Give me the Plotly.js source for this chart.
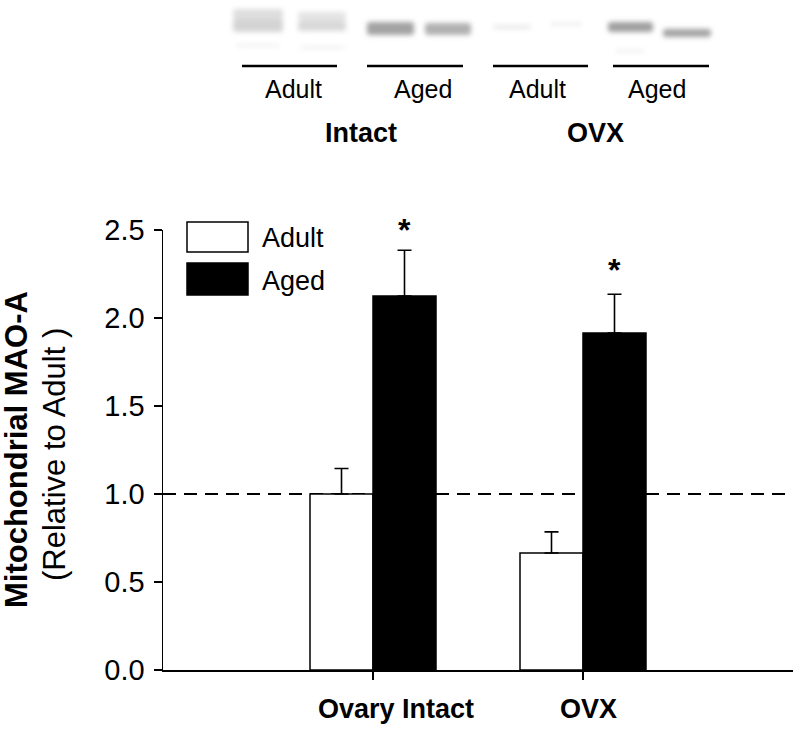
<!DOCTYPE html>
<html>
<head>
<meta charset="utf-8">
<script src="https://cdn.plot.ly/plotly-3.0.1.min.js"></script>
<style>html,body{margin:0;padding:0;background:#fff;}#chart{width:794px;height:731px;}</style>
</head>
<body>
<div id="chart"></div>
<script>
// ---- data ----
const groups = ['Ovary Intact', 'OVX'];
const seriesNames = ['Adult', 'Aged'];
const adultValues = [1.0, 0.665];
const adultErrors = [0.145, 0.12];
const agedValues = [2.125, 1.915];
const agedErrors = [0.26, 0.22];
const significance = ['*', '*'];
const yTickValues = [0, 0.5, 1.0, 1.5, 2.0, 2.5];
const referenceLevel = 1.0;
const blotLaneLabels = ['Adult', 'Aged', 'Adult', 'Aged'];
const blotGroupLabels = ['Intact', 'OVX'];

// ---- geometry helpers (pixel -> paper) ----
const W = 794, H = 731;
const M = {l: 163, r: 1, t: 230, b: 61};
const PW = W - M.l - M.r, PH = H - M.t - M.b;
const px = x => (x - M.l) / PW;
const py = y => (H - M.b - y) / PH;
const FONT = 'Liberation Sans, Arial, Helvetica, sans-serif';

const xIdx = groups.map((g, i) => i);

const traces = [
  {
    type: 'bar', name: seriesNames[0], x: xIdx, y: adultValues,
    marker: {color: '#ffffff', line: {color: '#000000', width: 1.5}},
    error_y: {type: 'data', array: adultErrors, arrayminus: adultErrors.map(() => 0), symmetric: false,
              color: '#000000', thickness: 1.6, width: 7},
    hoverinfo: 'skip'
  },
  {
    type: 'bar', name: seriesNames[1], x: xIdx, y: agedValues,
    marker: {color: '#000000', line: {color: '#000000', width: 1.5}},
    error_y: {type: 'data', array: agedErrors, arrayminus: agedErrors.map(() => 0), symmetric: false,
              color: '#000000', thickness: 1.6, width: 7},
    hoverinfo: 'skip'
  }
];

const shapes = [
  // reference dashed line
  {type: 'line', xref: 'paper', yref: 'y', x0: 0, x1: 1, y0: referenceLevel, y1: referenceLevel,
   line: {color: '#000', width: 2, dash: '13px,8px'}, layer: 'below'},
  // legend boxes
  {type: 'rect', xref: 'paper', yref: 'paper', x0: px(187), x1: px(248), y0: py(252), y1: py(222),
   line: {color: '#000', width: 1.5}, fillcolor: '#fff'},
  {type: 'rect', xref: 'paper', yref: 'paper', x0: px(187), x1: px(248), y0: py(295), y1: py(263),
   line: {color: '#000', width: 1.5}, fillcolor: '#000'}
];

// blot lane underlines
const laneLines = [[242, 337], [367, 463], [493, 588], [613, 709]];
laneLines.forEach(([a, b]) => shapes.push({
  type: 'line', xref: 'paper', yref: 'paper', x0: px(a), x1: px(b), y0: py(66), y1: py(66),
  line: {color: '#000', width: 2.5}
}));

const annotations = [];
// legend text
annotations.push({xref: 'paper', yref: 'paper', x: px(260), y: py(238), xanchor: 'left', yanchor: 'middle',
  text: seriesNames[0], showarrow: false, font: {family: FONT, size: 27, color: '#000'}});
annotations.push({xref: 'paper', yref: 'paper', x: px(260), y: py(281), xanchor: 'left', yanchor: 'middle',
  text: seriesNames[1], showarrow: false, font: {family: FONT, size: 27, color: '#000'}});
// group labels under x-axis
const groupShift = [23, 5];
groups.forEach((g, i) => annotations.push({xref: 'x', yref: 'paper', x: i, y: py(709), xshift: groupShift[i],
  xanchor: 'center', yanchor: 'middle', text: '<b>' + g + '</b>', showarrow: false,
  font: {family: FONT, size: 27, color: '#000'}}));
// significance stars
const starShift = [0, 4];
significance.forEach((s, i) => annotations.push({xref: 'x', yref: 'y', x: i + 0.15, y: agedValues[i] + agedErrors[i],
  xanchor: 'center', yanchor: 'bottom', yshift: starShift[i], text: '<b>' + s + '</b>', showarrow: false,
  font: {family: FONT, size: 32, color: '#000'}}));
// y title
annotations.push({xref: 'paper', yref: 'paper', x: px(16), y: py(450), xanchor: 'center', yanchor: 'middle',
  textangle: -90, text: '<b>Mitochondrial MAO-A</b>', showarrow: false, font: {family: FONT, size: 31, color: '#000'}});
annotations.push({xref: 'paper', yref: 'paper', x: px(54), y: py(455), xanchor: 'center', yanchor: 'middle',
  textangle: -90, text: '(Relative to Adult )', showarrow: false, font: {family: FONT, size: 31, color: '#000'}});
// blot labels
const laneLabelX = [293, 423, 537, 657];
blotLaneLabels.forEach((t, i) => annotations.push({xref: 'paper', yref: 'paper', x: px(laneLabelX[i]), y: py(89),
  xanchor: 'center', yanchor: 'middle', text: t, showarrow: false, font: {family: FONT, size: 25, color: '#000'}}));
const groupLabelX = [361, 595];
blotGroupLabels.forEach((t, i) => annotations.push({xref: 'paper', yref: 'paper', x: px(groupLabelX[i]), y: py(133),
  xanchor: 'center', yanchor: 'middle', text: '<b>' + t + '</b>', showarrow: false, font: {family: FONT, size: 27, color: '#000'}}));

// blot picture (blurred bands) as inline SVG
const bands = [
  // [x, y, w, h, grey, opacity]
  [13, 9, 50, 10, '#c8c8c8', 0.6], [13, 19, 50, 13, '#b8b8b8', 0.6],
  [78, 12, 48, 9, '#cdcdcd', 0.55], [78, 21, 48, 10, '#bfbfbf', 0.6],
  [15, 44, 45, 3, '#e0e0e0', 0.45], [80, 46, 45, 3, '#dcdcdc', 0.45],
  [147, 22, 47, 13, '#8c8c8c', 0.8], [205, 23, 46, 12, '#979797', 0.75],
  [273, 25, 38, 4, '#d5d5d5', 0.55], [330, 22, 32, 4, '#dedede', 0.45],
  [388, 22, 45, 10, '#888888', 0.8], [443, 29, 48, 8, '#8c8c8c', 0.8],
  [395, 49, 30, 4, '#e2e2e2', 0.4]
];
let svg = '<svg xmlns="http://www.w3.org/2000/svg" width="500" height="60" viewBox="0 0 500 60">' +
  '<defs><filter id="b" x="-20%" y="-50%" width="140%" height="200%"><feGaussianBlur stdDeviation="2.8"/></filter></defs><g filter="url(#b)">';
bands.forEach(([x, y, w, h, c, o]) => {
  svg += '<rect x="' + x + '" y="' + y + '" width="' + w + '" height="' + h + '" rx="3" fill="' + c + '" fill-opacity="' + o + '"/>';
});
svg += '</g></svg>';
const blotSrc = 'data:image/svg+xml;charset=utf-8,' + encodeURIComponent(svg);

const layout = {
  width: W, height: H,
  margin: M,
  paper_bgcolor: '#fff', plot_bgcolor: '#fff',
  showlegend: false,
  barmode: 'group', bargap: 0.4, bargroupgap: 0,
  font: {family: FONT, size: 26, color: '#000'},
  xaxis: {
    range: [-1, 2], tickvals: xIdx, ticktext: groups.map(() => ''), showticklabels: false,
    ticks: 'outside', ticklen: 8, tickwidth: 1.5, tickcolor: '#000',
    showline: true, linecolor: '#000', linewidth: 2, showgrid: false, zeroline: false, fixedrange: true
  },
  yaxis: {
    range: [0, 2.5], tickvals: yTickValues, tickformat: '.1f',
    ticks: 'outside', ticklen: 8, tickwidth: 1.5, tickcolor: '#000', ticklabelstandoff: 3,
    showline: true, linecolor: '#000', linewidth: 1.5, showgrid: false, zeroline: false,
    tickfont: {family: FONT, size: 29, color: '#000'}, fixedrange: true
  },
  shapes: shapes,
  annotations: annotations,
  images: [{source: blotSrc, xref: 'paper', yref: 'paper', x: px(220), y: py(0), sizex: 500 / PW, sizey: 60 / PH,
            sizing: 'stretch', xanchor: 'left', yanchor: 'top', layer: 'above'}]
};

Plotly.newPlot('chart', traces, layout, {displayModeBar: false, staticPlot: true});
</script>
</body>
</html>
